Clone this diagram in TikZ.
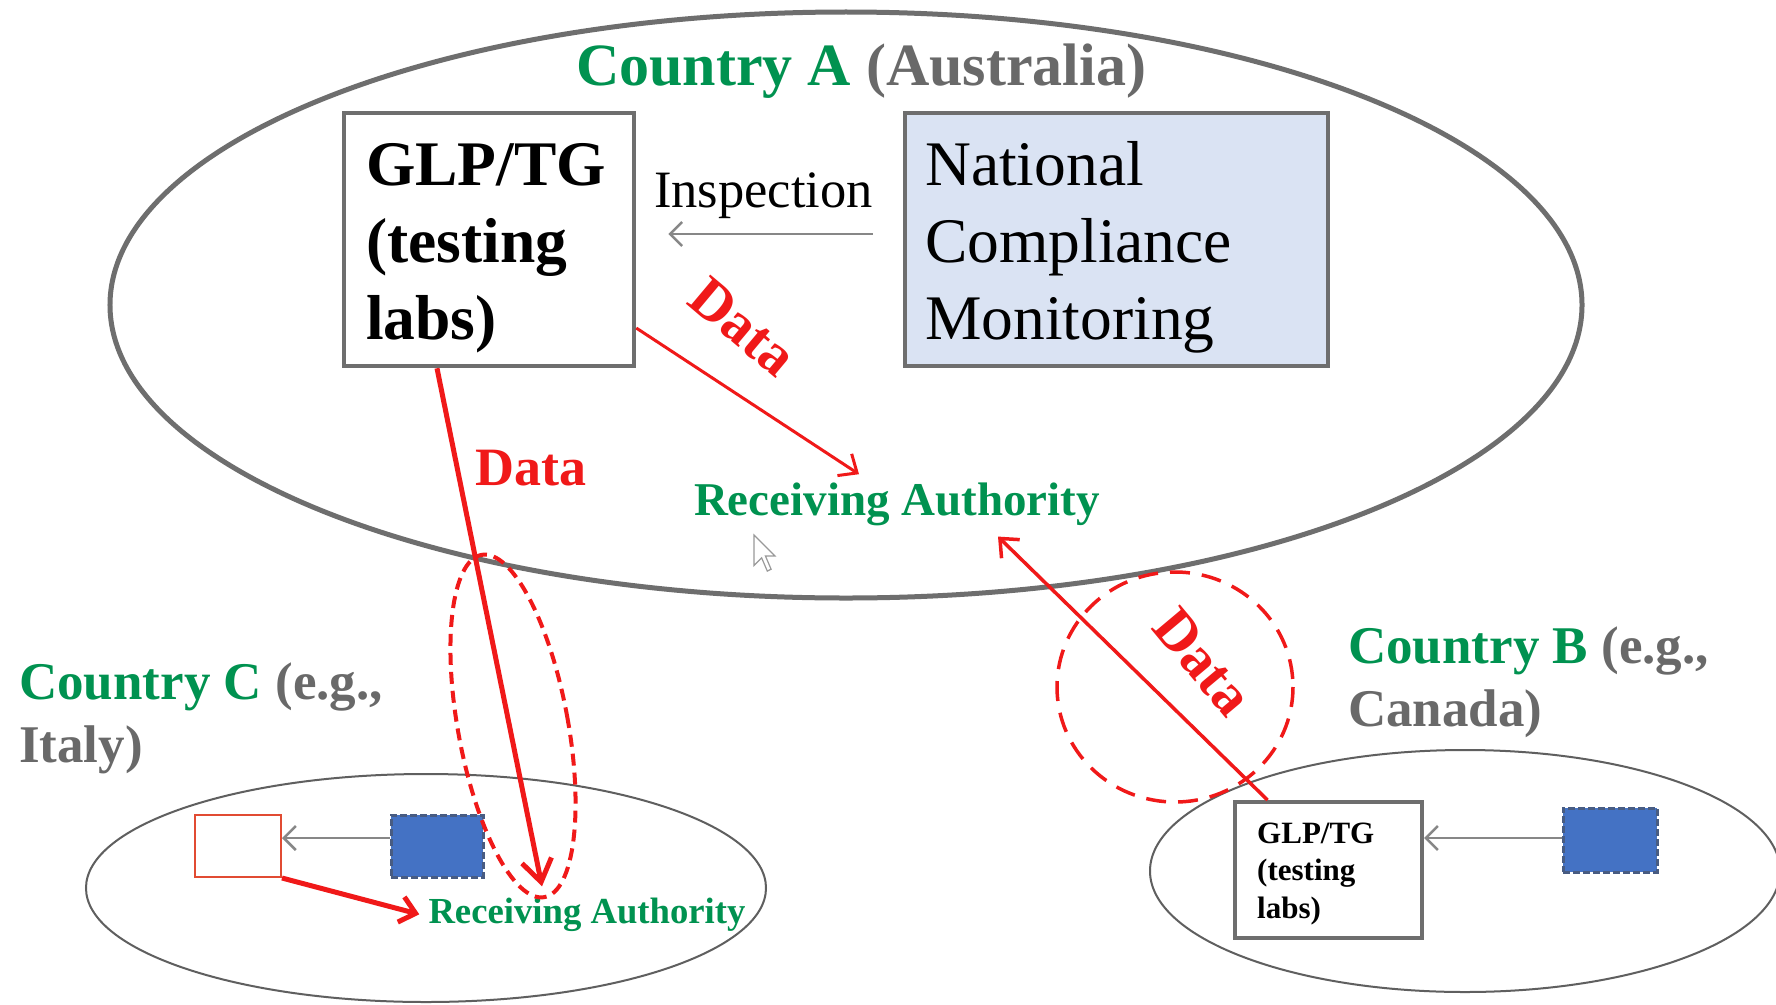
\documentclass[tikz,border=0pt]{standalone}
\usepackage{fontspec}
\setmainfont{Liberation Serif}
\usetikzlibrary{arrows.meta,shapes.geometric}

\definecolor{cgreen}{RGB}{0,146,80}
\definecolor{cgray}{RGB}{105,105,105}
\definecolor{edge}{RGB}{110,110,110}
\definecolor{thinedge}{RGB}{95,95,95}
\definecolor{cred}{RGB}{240,25,25}
\definecolor{paleblue}{RGB}{218,227,243}
\definecolor{fillblue}{RGB}{68,114,196}
\definecolor{dashblue}{RGB}{72,92,130}
\definecolor{boxred}{RGB}{225,75,50}
\definecolor{linkgray}{RGB}{135,135,135}

% font size in bp with a given line distance
\newcommand\fsz[2]{\fontsize{#1bp}{#2bp}\selectfont}
% left-aligned lines, baseline on the first line
\newcommand\linestack[1]{\vtop{\halign{##\hfil\cr#1\crcr}}}

\begin{document}
\begin{tikzpicture}[x=1bp,y=-1bp,
  country/.style={ellipse, draw=edge, line width=5bp, inner sep=0pt},
  region/.style={ellipse, draw=thinedge, line width=2bp, inner sep=0pt},
  labbox/.style={rectangle, draw=edge, line width=4.5bp, inner sep=0pt},
  bluebox/.style={rectangle, fill=fillblue, draw=dashblue, line width=3bp,
    dash pattern=on 7bp off 3bp, inner sep=0pt},
  plain/.style={inner sep=0pt},
  flow/.style={draw=cred, line width=3.5bp, -{Straight Barb[length=15bp,width=26bp]}},
  link/.style={draw=linkgray, line width=2.5bp, -{Straight Barb[length=12bp,width=24bp]}},
  halo/.style={draw=cred, line width=3.5bp, dash pattern=on 20bp off 12bp},
  datalabel/.style={plain, text=cred, font=\fsz{58}{64}\bfseries},
  authority/.style={plain, text=cgreen, font=\bfseries},
  countrylabel/.style={plain, anchor=base west, font=\fsz{53}{63}\bfseries}
]
\fill[white] (0,0) rectangle (1776,1004);
\useasboundingbox (0,0) rectangle (1776,1004);

% Country A
\node[country, minimum width=1472bp, minimum height=586bp] (countryA) at (846,305) {};
\node[plain, anchor=base, font=\fsz{60}{70}\bfseries] (titleA) at (861,85)
  {\textcolor{cgreen}{Country A} \textcolor{cgray}{(Australia)}};

\node[labbox, minimum width=290bp, minimum height=253bp] (glp) at (489,239.5) {};
\node[plain, anchor=base west, font=\fsz{63.5}{77}\bfseries] (glptext) at (366,185)
  {\linestack{GLP/TG\cr(testing\cr labs)}};

\node[labbox, fill=paleblue, minimum width=423bp, minimum height=253bp] (ncm) at (1116.5,239.5) {};
\node[plain, anchor=base west, font=\fsz{63.5}{77}] (ncmtext) at (925,185)
  {\linestack{National\cr Compliance\cr Monitoring}};

\node[plain, anchor=base west, font=\fsz{52.5}{60}] (insp) at (654,207) {Inspection};
\draw[link, shorten <=30bp, shorten >=32bp] ([yshift=5.5bp]ncm.west) -- ([yshift=5.5bp]glp.east);

\node[authority, anchor=base, font=\fsz{47}{55}\bfseries] (recA) at (897,515) {Receiving Authority};

% Country C
\node[region, minimum width=680bp, minimum height=228bp] (countryC) at (426,888) {};
\node[countrylabel] (labC) at (19,699)
  {\linestack{\textcolor{cgreen}{Country C} \textcolor{cgray}{(e.g.,}\cr \textcolor{cgray}{Italy)}}};
\node[rectangle, draw=boxred, line width=2bp, minimum width=86bp, minimum height=62bp] (redC) at (238,846) {};
\node[bluebox, minimum width=92bp, minimum height=62bp] (blueC) at (437,846) {};
\draw[link] ([yshift=8bp]blueC.west) -- ([yshift=8bp]redC.east);
\node[authority, anchor=base, font=\fsz{36.7}{44}\bfseries] (recC) at (587,923) {Receiving Authority};
\draw[flow, line width=5bp] (redC.south east) -- ([xshift=-9bp]recC.west);

% Country B
\node[region, minimum width=630bp, minimum height=242bp] (countryB) at (1465,871) {};
\node[countrylabel] (labB) at (1348,663)
  {\linestack{\textcolor{cgreen}{Country B} \textcolor{cgray}{(e.g.,}\cr \textcolor{cgray}{Canada)}}};
\node[labbox, line width=4bp, minimum width=187bp, minimum height=136bp] (glpB) at (1328.5,870) {};
\node[plain, anchor=base west, font=\fsz{31}{37.5}\bfseries] (glpBtext) at (1257,843)
  {\linestack{GLP/TG\cr(testing\cr labs)}};
\node[bluebox, minimum width=94bp, minimum height=64bp] (blueB) at (1610,840) {};
\draw[link] ([yshift=2bp]blueB.west) -- ([yshift=2bp]blueB.west -| glpB.east);

% data flows to the receiving authorities
\draw[flow, line width=3bp] ([yshift=-88.5bp]glp.east) -- ([xshift=-38bp,yshift=8bp]recA.north);
\node[datalabel, rotate=-40] (data1) at (743,327) {Data};

\draw[halo, line width=4bp, dash pattern=on 12bp off 7bp, rotate around={10.4:(513,726)}]
  (513,726) ellipse [x radius=55, y radius=174];
\draw[flow, line width=5bp, -{Straight Barb[length=22bp,width=30bp]}]
  ([xshift=-52bp]glp.south) -- ([xshift=-45bp,yshift=11bp]recC.north);
\node[datalabel, anchor=base, font=\fsz{54}{60}\bfseries] (data2) at (531,485) {Data};

\draw[halo] (1175,687) ellipse [x radius=118, y radius=115];
\draw[flow, line width=3.5bp] ([xshift=-61bp]glpB.north) -- ([xshift=101bp,yshift=-11bp]recA.south);
\node[datalabel, rotate=-50] (data3) at (1203,662) {Data};

% pointer
\draw[fill=white, draw=gray!80, line width=1.2bp, shift={(754,535)}, scale=1.9]
  (0,0) -- (0,16) -- (4,12) -- (7,19) -- (9,18) -- (6,11) -- (11,11) -- cycle;
\end{tikzpicture}
\end{document}
